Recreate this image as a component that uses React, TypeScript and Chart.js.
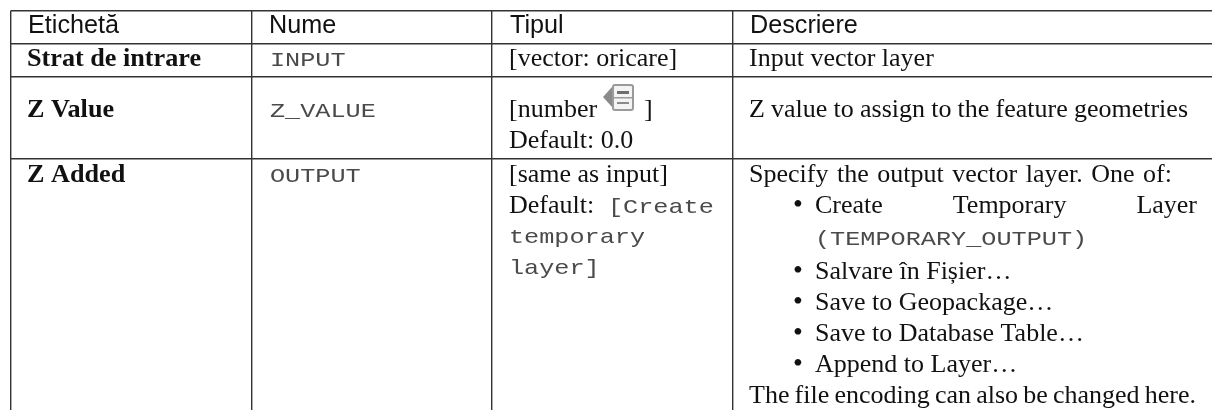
import React, { useEffect, useRef } from "react";
import { Chart, registerables } from "chart.js";

Chart.register(...registerables);

// ---- table content ----
const headers = ["Etichetă", "Nume", "Tipul", "Descriere"];
const labels = ["Strat de intrare", "Z Value", "Z Added"];
const names = ["INPUT", "Z_VALUE", "OUTPUT"];
const inputType = ["[vector: oricare]"];
const zValueType = ["[number", "]", "Default: 0.0"];
const outputType = ["[same as input]", "Default:", "[Create", "temporary", "layer]"];
const inputDesc = "Input vector layer";
const zValueDesc = "Z value to assign to the feature geometries";
const outputIntro = "Specify the output vector layer. One of:";
const createWords = ["Create", "Temporary", "Layer"];
const createCode = "(TEMPORARY_OUTPUT)";
const outputBullets = ["Salvare în Fișier…", "Save to Geopackage…", "Save to Database Table…", "Append to Layer…"];
const outputOutro = "The file encoding can also be changed here.";

// ---- layout (table units are canvas pixels) ----
const W = 1212;
const H = 410;
const columnEdges = [10.5, 251.5, 491.5, 732.5];
const rowEdges = [10.5, 43.5, 76.5, 158.5];
const headerX = [28, 269, 510, 750];
const cellX = [27, 270, 509, 749];
const bulletX = 793;
const listX = 815;
const listRight = 1197;
const introRight = 1172;
const outroRight = 1196;
const zDescRight = 1188;
const headerBase = 33;
const row1Base = 66;
const row2Base = [117, 148];
const outBase = [182, 213, 243, 274];
const descBase = [182, 213, 245, 279, 310, 341, 372, 403];

const SERIF = '26px "Liberation Serif"';
const BOLD = 'bold 26.2px "Liberation Serif"';
const SANS = '25.2px "Liberation Sans"';
const MONO = '21px "Liberation Mono"';
const BULLET = '28px "Liberation Serif"';
const INK = "#111";
const MONO_INK = "#4a4a4a";
const MONO_STRETCH = 1.2;

const tablePlugin = {
  id: "tableText",
  afterDraw(chart: any) {
    const { ctx, scales } = chart;
    const px = (v: number) => scales.x.getPixelForValue(v);
    const py = (v: number) => scales.y.getPixelForValue(v);
    const text = (s: string, x: number, y: number, font: string, color = INK) => {
      ctx.font = font;
      ctx.fillStyle = color;
      ctx.fillText(s, px(x), py(y));
    };
    // a line set to end at a given right edge by adjusting its word gaps, as justified text does
    const fitted = (s: string, x: number, right: number, y: number) => {
      ctx.font = SERIF;
      const w = ctx.measureText(s).width;
      const gaps = s.split(" ").length - 1;
      ctx.wordSpacing = `${(right - x - w) / gaps}px`;
      text(s, x, y, SERIF);
      ctx.wordSpacing = "0px";
    };
    const mono = (s: string, x: number, y: number) => {
      ctx.save();
      ctx.translate(px(x), py(y));
      ctx.scale(MONO_STRETCH, 1);
      ctx.font = MONO;
      ctx.fillStyle = MONO_INK;
      ctx.fillText(s, 0, 0);
      ctx.restore();
    };
    ctx.save();
    ctx.textBaseline = "alphabetic";
    ctx.textAlign = "left";
    headers.forEach((h, i) => text(h, headerX[i], headerBase, SANS));

    // column 1
    text(labels[0], cellX[0], row1Base, BOLD);
    text(labels[1], cellX[0], row2Base[0], BOLD);
    text(labels[2], cellX[0], outBase[0], BOLD);

    // column 2
    mono(names[0], cellX[1], row1Base);
    mono(names[1], cellX[1], row2Base[0]);
    mono(names[2], cellX[1], outBase[0]);

    // column 3
    text(inputType[0], cellX[2], row1Base, SERIF);
    text(zValueType[0], cellX[2], row2Base[0], SERIF);
    drawIcon(ctx, px(603), py(84));
    text(zValueType[1], 644, row2Base[0], SERIF);
    text(zValueType[2], cellX[2], row2Base[1], SERIF);
    text(outputType[0], cellX[2], outBase[0], SERIF);
    text(outputType[1], cellX[2], outBase[1], SERIF);
    mono(outputType[2], 608, outBase[1]);
    mono(outputType[3], cellX[2], outBase[2]);
    mono(outputType[4], cellX[2], outBase[3]);

    // column 4
    text(inputDesc, cellX[3], row1Base, SERIF);
    fitted(zValueDesc, cellX[3], zDescRight, row2Base[0]);
    fitted(outputIntro, cellX[3], introRight, descBase[0]);

    // justified bullet
    ctx.font = SERIF;
    const widths = createWords.map((w) => ctx.measureText(w).width);
    const total = widths.reduce((a, b) => a + b, 0);
    const gap = (listRight - listX - total) / (createWords.length - 1);
    let cx = listX;
    createWords.forEach((w, i) => {
      text(w, cx, descBase[1], SERIF);
      cx += widths[i] + gap;
    });
    text("•", bulletX, descBase[1], BULLET);
    mono(createCode, listX, descBase[2]);
    outputBullets.forEach((b, i) => {
      text("•", bulletX, descBase[3 + i], BULLET);
      text(b, listX, descBase[3 + i], SERIF);
    });
    fitted(outputOutro, cellX[3], outroRight, descBase[7]);
    ctx.restore();
  },
};

function drawIcon(ctx: CanvasRenderingContext2D, x: number, y: number) {
  // parameter-from-layer glyph
  ctx.save();
  ctx.translate(x, y);
  ctx.fillStyle = "#8a8a8a";
  ctx.beginPath();
  ctx.moveTo(0, 13);
  ctx.lineTo(9, 3);
  ctx.lineTo(9, 23);
  ctx.closePath();
  ctx.fill();
  ctx.fillStyle = "#f4f4f4";
  ctx.strokeStyle = "#9a9a9a";
  ctx.lineWidth = 2;
  ctx.beginPath();
  ctx.roundRect(10, 1, 20, 25, 2);
  ctx.fill();
  ctx.stroke();
  ctx.fillStyle = "#6e6e6e";
  ctx.fillRect(14, 7, 12, 3);
  ctx.fillStyle = "#9a9a9a";
  ctx.fillRect(10, 13, 20, 1.5);
  ctx.fillStyle = "#8a8a8a";
  ctx.fillRect(14, 18, 12, 2);
  ctx.restore();
}

export default function App() {
  const ref = useRef<HTMLCanvasElement>(null);
  useEffect(() => {
    document.body.style.margin = "0";
    document.body.style.background = "#fff";
    const gridColor = "#333333";
    const chart = new Chart(ref.current!, {
      type: "scatter",
      data: { datasets: [{ data: [], pointRadius: 0 }] },
      plugins: [tablePlugin],
      options: {
        responsive: false,
        animation: false,
        layout: { padding: { left: columnEdges[0], top: rowEdges[0], right: 0, bottom: 0 } },
        plugins: { legend: { display: false }, tooltip: { enabled: false }, title: { display: false } },
        scales: {
          x: {
            type: "linear",
            min: columnEdges[0],
            max: W,
            afterBuildTicks: (s: any) => {
              s.ticks = columnEdges.map((value) => ({ value }));
            },
            ticks: { display: false },
            border: { display: false },
            grid: { color: gridColor, lineWidth: 1.4, drawTicks: false },
          },
          y: {
            type: "linear",
            reverse: true,
            min: rowEdges[0],
            max: H,
            afterBuildTicks: (s: any) => {
              s.ticks = rowEdges.map((value) => ({ value }));
            },
            ticks: { display: false },
            border: { display: false },
            grid: { color: gridColor, lineWidth: 1.4, drawTicks: false },
          },
        },
      } as any,
    });
    return () => chart.destroy();
  }, []);
  return (
    <canvas
      ref={ref}
      width={W}
      height={H}
      style={{ display: "block", width: W, height: H, filter: "blur(0.3px)" }}
    />
  );
}
